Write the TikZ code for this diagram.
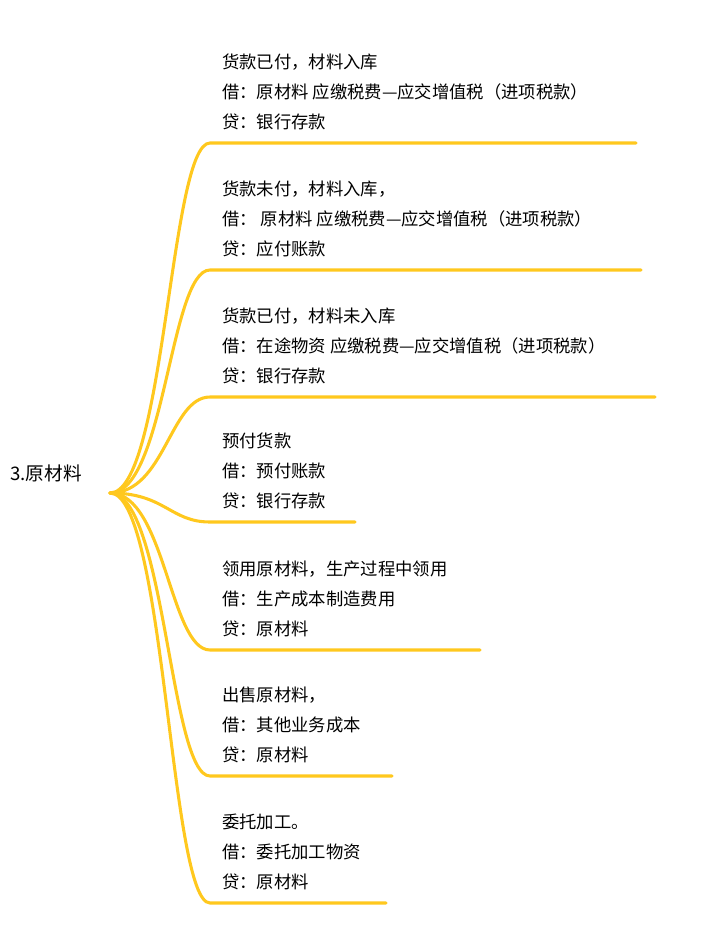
\documentclass[tikz,border=0pt]{standalone}
\usepackage{fontspec}
\setmainfont{Noto Sans CJK SC}
\definecolor{br}{HTML}{FFC81E}
\begin{document}
\begin{tikzpicture}[x=0.75pt,y=-0.75pt,
 br/.style={draw=br,line width=2.3pt,line cap=round},
 txt/.style={anchor=west,inner sep=0pt,font=\fontsize{13pt}{15pt}\selectfont}]
\useasboundingbox (0,0) rectangle (713,932);
\node[txt,font=\fontsize{14pt}{16pt}\selectfont] (root) at (10,473) {3.原材料};
\coordinate (o) at (110,493);
\foreach \y/\e/\a/\b/\c in {143/636/货款已付，材料入库/借：原材料 应缴税费—应交增值税（进项税款）/贷：银行存款,
 270/641/货款未付，材料入库，/借：\ 原材料 应缴税费—应交增值税（进项税款）/贷：应付账款,
 397/655/货款已付，材料未入库/借：在途物资 应缴税费—应交增值税（进项税款）/贷：银行存款,
 522/355/预付货款/借：预付账款/贷：银行存款,
 650/480/领用原材料，生产过程中领用/借：生产成本制造费用/贷：原材料,
 776/392/出售原材料，/借：其他业务成本/贷：原材料,
 903/386/委托加工。/借：委托加工物资/贷：原材料}{
 \coordinate (s\y) at (210,\y);
 \coordinate (e\y) at (\e,\y);
 \draw[br] (o) .. controls (165,493) and (170,\y) .. (s\y) -- (e\y);
 \node[txt] (a\y) at (222,\y-81) {\a};
 \node[txt] (b\y) at (222,\y-51) {\b};
 \node[txt] (c\y) at (222,\y-21) {\c};
}
\end{tikzpicture}
\end{document}
